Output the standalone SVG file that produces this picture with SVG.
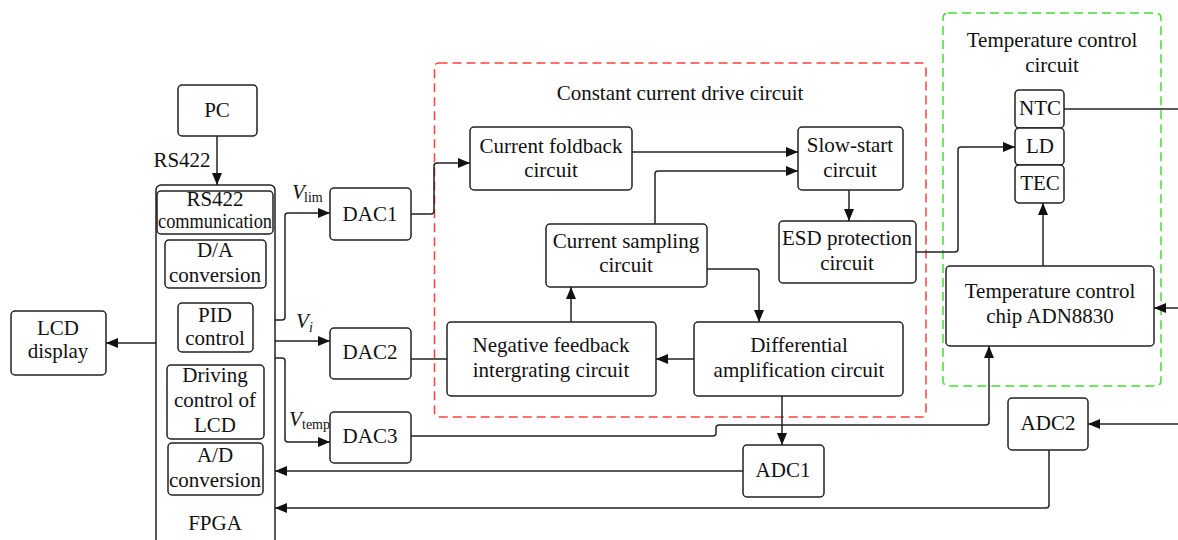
<svg xmlns="http://www.w3.org/2000/svg" width="1178" height="540" viewBox="0 0 1178 540" font-family="'Liberation Serif', 'DejaVu Serif', serif">
  <defs>
    <marker id="arrow" markerUnits="userSpaceOnUse" markerWidth="12" markerHeight="10" refX="12" refY="5" orient="auto">
      <path d="M0,0 L12,5 L0,10 z" fill="#111"/>
    </marker>
    <style>
      .box { fill: #fff; stroke: #222; stroke-width: 1.5; }
      .wire { fill: none; stroke: #222; stroke-width: 1.5; }
      .arr { marker-end: url(#arrow); }
      text { font-family: 'Liberation Serif', 'DejaVu Serif', serif; font-size: 21px; fill: #111; text-anchor: middle; }
      .lbl { text-anchor: start; }
      .sub { font-size: 14px; }
      .it { font-style: italic; }
    </style>
  </defs>
  <rect width="1178" height="540" fill="#fff"/>

  <!-- group frames -->
  <rect id="constant-current-frame" x="434.5" y="63" width="491.5" height="354" rx="4" fill="none" stroke="#ff4040" stroke-width="1.5" stroke-dasharray="9,5"/>
  <text x="680" y="100">Constant current drive circuit</text>
  <rect id="temperature-frame" x="943" y="13" width="218" height="373" rx="5" fill="none" stroke="#44dd33" stroke-width="1.5" stroke-dasharray="9,5"/>
  <text x="1052" y="47">Temperature control</text>
  <text x="1052" y="72">circuit</text>

  <!-- connectors -->
  <g id="connectors">
    <path class="wire arr" d="M217,136 V185"/>
    <path class="wire arr" d="M156,343 H106"/>
    <path class="wire arr" d="M275,320 H282 Q285,320 285,317 V216 Q285,213 288,213 H330"/>
    <path class="wire arr" d="M275,341 H330"/>
    <path class="wire arr" d="M275,358 H282 Q285,358 285,361 V439 Q285,442 288,442 H330"/>
    <path class="wire arr" d="M411,214 H431 Q434,214 434,211 V166 Q434,163 437,163 H470"/>
    <path class="wire arr" d="M632,152 H798"/>
    <path class="wire arr" d="M655,224 V174 Q655,171 658,171 H798"/>
    <path class="wire arr" d="M849,190 V221"/>
    <path class="wire arr" d="M707,269 H756 Q759,269 759,272 V322"/>
    <path class="wire arr" d="M694,359 H656"/>
    <path class="wire arr" d="M571,322 V287"/>
    <path class="wire" d="M411,359 H447"/>
    <path class="wire arr" d="M782,396 V445"/>
    <path class="wire arr" d="M743,471 H275"/>
    <path class="wire arr" d="M411,436 H713 Q716,436 716,433 V428 Q716,425 719,425 H986 Q989,425 989,422 V346"/>
    <path class="wire arr" d="M916,252 H955 Q958,252 958,249 V150 Q958,147 961,147 H1015"/>
    <path class="wire" d="M1064,109 H1178"/>
    <path class="wire arr" d="M1043,266 V203"/>
    <path class="wire arr" d="M1178,308 H1154"/>
    <path class="wire arr" d="M1178,424 H1088"/>
    <path class="wire arr" d="M1049,450 V505 Q1049,508 1046,508 H275"/>
  </g>

  <!-- connector labels -->
  <text x="182" y="167">RS422</text>
  <text class="lbl it" x="292" y="199">V</text>
  <text class="lbl sub" x="304" y="202">lim</text>
  <text class="lbl it" x="296" y="328">V</text>
  <text class="lbl sub it" x="309" y="332">i</text>
  <text class="lbl it" x="289" y="426">V</text>
  <text class="lbl sub" x="302" y="429">temp</text>

  <g id="pc">
    <rect class="box" x="178" y="85" width="79" height="51" rx="4"/>
    <text x="217" y="117">PC</text>
  </g>

  <g id="fpga">
    <rect class="box" x="156" y="185" width="119" height="360" rx="5"/>
    <text x="215" y="530">FPGA</text>
  </g>
  <g id="rs422-communication">
    <rect class="box" x="157" y="191" width="116" height="43" rx="4"/>
    <text x="215" y="206">RS422</text>
    <text x="215" y="228" textLength="114" lengthAdjust="spacingAndGlyphs">communication</text>
  </g>
  <g id="da-conversion">
    <rect class="box" x="165" y="240" width="101" height="48" rx="4"/>
    <text x="215" y="257">D/A</text>
    <text x="215" y="282">conversion</text>
  </g>
  <g id="pid-control">
    <rect class="box" x="178" y="303" width="75" height="49" rx="4"/>
    <text x="215" y="322">PID</text>
    <text x="215" y="345">control</text>
  </g>
  <g id="lcd-driving">
    <rect class="box" x="167" y="365" width="97" height="74" rx="4"/>
    <text x="215" y="382">Driving</text>
    <text x="215" y="407">control of</text>
    <text x="215" y="432">LCD</text>
  </g>
  <g id="ad-conversion">
    <rect class="box" x="168" y="443" width="95" height="52" rx="4"/>
    <text x="215" y="462">A/D</text>
    <text x="215" y="487">conversion</text>
  </g>

  <g id="lcd-display">
    <rect class="box" x="11" y="311" width="95" height="64" rx="4"/>
    <text x="58" y="335">LCD</text>
    <text x="58" y="358">display</text>
  </g>

  <g id="dac1">
    <rect class="box" x="330" y="188" width="81" height="52" rx="4"/>
    <text x="370" y="221">DAC1</text>
  </g>
  <g id="dac2">
    <rect class="box" x="330" y="328" width="81" height="51" rx="4"/>
    <text x="370" y="359">DAC2</text>
  </g>
  <g id="dac3">
    <rect class="box" x="330" y="412" width="81" height="51" rx="4"/>
    <text x="370" y="443">DAC3</text>
  </g>

  <g id="current-foldback">
    <rect class="box" x="470" y="127" width="162" height="63" rx="4"/>
    <text x="551" y="153">Current foldback</text>
    <text x="551" y="177">circuit</text>
  </g>
  <g id="slow-start">
    <rect class="box" x="798" y="127" width="105" height="63" rx="4"/>
    <text x="850" y="152">Slow-start</text>
    <text x="850" y="177">circuit</text>
  </g>
  <g id="esd-protection">
    <rect class="box" x="779" y="221" width="137" height="62" rx="4"/>
    <text x="847" y="245">ESD protection</text>
    <text x="847" y="270">circuit</text>
  </g>
  <g id="current-sampling">
    <rect class="box" x="546" y="224" width="161" height="63" rx="4"/>
    <text x="626" y="248">Current sampling</text>
    <text x="626" y="272">circuit</text>
  </g>
  <g id="negative-feedback">
    <rect class="box" x="447" y="322" width="209" height="74" rx="4"/>
    <text x="551" y="352">Negative feedback</text>
    <text x="551" y="377">intergrating circuit</text>
  </g>
  <g id="differential-amplification">
    <rect class="box" x="694" y="322" width="209" height="74" rx="4"/>
    <text x="799" y="352">Differential</text>
    <text x="799" y="377">amplification circuit</text>
  </g>
  <g id="adc1">
    <rect class="box" x="743" y="445" width="81" height="52" rx="4"/>
    <text x="783" y="477">ADC1</text>
  </g>

  <g id="ntc">
    <rect class="box" x="1015" y="90" width="49" height="38" rx="4"/>
    <text x="1040" y="115">NTC</text>
  </g>
  <g id="ld">
    <rect class="box" x="1015" y="128" width="49" height="37" rx="4"/>
    <text x="1040" y="153">LD</text>
  </g>
  <g id="tec">
    <rect class="box" x="1015" y="165" width="49" height="38" rx="4"/>
    <text x="1040" y="190">TEC</text>
  </g>
  <g id="adn8830">
    <rect class="box" x="946" y="266" width="208" height="80" rx="4"/>
    <text x="1050" y="298">Temperature control</text>
    <text x="1050" y="323">chip ADN8830</text>
  </g>
  <g id="adc2">
    <rect class="box" x="1008" y="398" width="80" height="52" rx="4"/>
    <text x="1048" y="430">ADC2</text>
  </g>
</svg>
